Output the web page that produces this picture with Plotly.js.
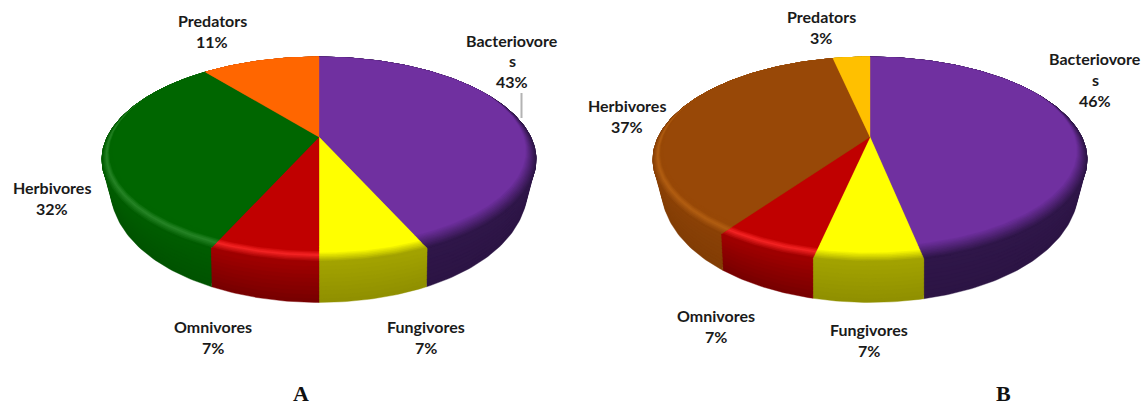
<!DOCTYPE html>
<html><head><meta charset="utf-8">
<script src="https://cdn.plot.ly/plotly-3.0.1.min.js"></script>
<style>html,body{margin:0;padding:0;background:#fff}#c{width:1146px;height:405px}</style>
</head><body><div id="c"></div>
<script>
// ---- data ----
const categories = ["Bacteriovores","Fungivores","Omnivores","Herbivores","Predators"];
const sharesA = [43.3,6.7,6.7,32.5,10.8];  // slice sizes
const sharesB = [46.8,6.6,6.4,36.8,3.4];   // slice sizes
const percentLabelsA = ["43%","7%","7%","32%","11%"];
const percentLabelsB = ["46%","7%","7%","37%","3%"];
const categoryLines = [["Bacteriovore","s"],["Fungivores"],["Omnivores"],["Herbivores"],["Predators"]];
const panelNames = ["A","B"];

// ---- styles ----
const stylePurple = {base:"#7030a0",hi:null,start:.90,top:"#2f1649",bot:"#2c1444"};
const styleYellow = {base:"#ffff00",hi:null,start:.94,top:"#a3a300",bot:"#8f8f00"};
const styleRed    = {base:"#c00000",hi:"#f62525",start:.93,top:"#a00000",bot:"#760000"};
const styleGreen  = {base:"#006600",hi:"#278527",start:.93,top:"#005c00",bot:"#005200"};
const styleBrown  = {base:"#984807",hi:"#b25e12",start:.93,top:"#8a4106",bot:"#823d05"};
const styleOrange = {base:"#ff6600",hi:null,start:.94,top:"#c04c00",bot:"#a04000"};
const styleGold   = {base:"#ffc000",hi:null,start:.94,top:"#c09000",bot:"#a07800"};
const stylesA = [stylePurple,styleYellow,styleRed,styleGreen,styleOrange];
const stylesB = [stylePurple,styleYellow,styleRed,styleBrown,styleGold];

// ---- layout of the two tilted pies (page pixels) ----
const apexA = [319,137], apexB = [870,137];
const persp = {sx:211.7, sy:97.56, k:0.2195, faceMidY:22.5, dropMid:25.5, growY:0.146, shrinkX:0.04};
const labelPosA = [[512,40],[426,326.5],[213,326.5],[52,187.5],[212,20.5]];
const labelPosB = [[1095,58.5],[869,329.5],[716,315.5],[627,105.5],[821,16.5]];
const lineStep = 20.8;
const panelPos = [[301,393],[1003,393]];

function project(apex,theta,r,t){
  const X=r*Math.sin(theta), Y=-r*Math.cos(theta), w=1-persp.k*Y;
  let px=persp.sx*X/w, py=persp.sy*Y/w;
  if(t>0){
    px*=1-persp.shrinkX*t*X*X;
    py=persp.faceMidY+persp.dropMid*t+(py-persp.faceMidY)*(1+persp.growY*t);
  }
  return [apex[0]+px, apex[1]+py];
}
function hex(c){return [1,3,5].map(i=>parseInt(c.substr(i,2),16));}
function mix(a,b,t){const A=hex(a),B=hex(b);return "rgb("+A.map((v,i)=>Math.round(v+(B[i]-v)*t)).join(",")+")";}
function fillTrace(xs,ys,color){
  return {x:xs,y:ys,type:"scatter",mode:"lines",fill:"toself",fillcolor:color,
          line:{width:0.4,color:color},hoverinfo:"skip",showlegend:false};
}
function arcSteps(a0,a1){return Math.max(2,Math.ceil((a1-a0)*180/Math.PI));}
function bevelWeight(theta){
  const Y=-Math.cos(theta);
  return Math.max(0,Math.min(1,(Y+0.5)/1.5));
}
function faceWedge(apex,a0,a1,r,color){
  const n=arcSteps(a0,a1), xs=[apex[0]], ys=[apex[1]];
  for(let i=0;i<=n;i++){
    const a=a0+(a1-a0)*i/n, p=project(apex,a,1-(1-r)*bevelWeight(a),0);
    xs.push(p[0]); ys.push(p[1]);
  }
  xs.push(apex[0]); ys.push(apex[1]);
  return fillTrace(xs,ys,color);
}
// wall strip from the rim (t=0) down to t1; painted deepest first so strips overlap without seams
function wallBand(apex,a0,a1,t1,color){
  const n=arcSteps(a0,a1), xs=[], ys=[];
  for(let i=0;i<=n;i++){const p=project(apex,a0+(a1-a0)*i/n,1,0); xs.push(p[0]); ys.push(p[1]);}
  for(let i=n;i>=0;i--){const p=project(apex,a0+(a1-a0)*i/n,1,t1); xs.push(p[0]); ys.push(p[1]);}
  xs.push(xs[0]); ys.push(ys[0]);
  return fillTrace(xs,ys,color);
}
function ringColor(s,r){
  if(r<=s.start) return s.base;
  if(s.hi){
    const peak=s.start+(1-s.start)*0.4;
    if(r<=peak) return mix(s.base,s.hi,(r-s.start)/(peak-s.start));
    return mix(s.hi,s.top,(r-peak)/(1-peak));
  }
  return mix(s.base,s.top,(r-s.start)/(1-s.start));
}
function pieTraces(apex,shares,styles){
  const total=shares.reduce((a,b)=>a+b,0), out=[];
  const bounds=[0]; shares.forEach(v=>bounds.push(bounds[bounds.length-1]+v/total*2*Math.PI));
  const bands=10;
  for(let b=bands-1;b>=0;b--){
    shares.forEach((v,i)=>out.push(wallBand(apex,bounds[i],bounds[i+1],(b+1)/bands,
      mix(styles[i].top,styles[i].bot,(b+.5)/bands))));
  }
  for(let k=0;k<=10;k++){
    const r=1-k*0.01;
    shares.forEach((v,i)=>out.push(faceWedge(apex,bounds[i],bounds[i+1],r,ringColor(styles[i],r))));
  }
  return out;
}
function textAnn(x,y,text,font){
  return {x:x,y:y,text:text,showarrow:false,xref:"x",yref:"y",xanchor:"center",yanchor:"middle",font:font};
}
const labelFont={family:"Lato, Carlito, sans-serif",size:16,color:"#1a1a1a",weight:700};
const panelFont={family:"'Liberation Serif', serif",size:22,color:"#111111",weight:700};
function labelAnns(lines,perc,pos){
  const out=[];
  lines.forEach((ls,i)=>{
    ls.concat([perc[i]]).forEach((t,j)=>out.push(textAnn(pos[i][0],pos[i][1]+j*lineStep,"<b>"+t+"</b>",labelFont)));
  });
  return out;
}
const traces=pieTraces(apexA,sharesA,stylesA).concat(pieTraces(apexB,sharesB,stylesB));
const annotations=labelAnns(categoryLines,percentLabelsA,labelPosA)
  .concat(labelAnns(categoryLines,percentLabelsB,labelPosB))
  .concat(panelNames.map((n,i)=>textAnn(panelPos[i][0],panelPos[i][1],"<b>"+n+"</b>",panelFont)));
const layout={
  width:1146,height:405,margin:{l:0,r:0,t:0,b:0},paper_bgcolor:"#fff",plot_bgcolor:"#fff",showlegend:false,
  xaxis:{range:[0,1146],visible:false,fixedrange:true},
  yaxis:{range:[405,0],visible:false,fixedrange:true},
  annotations:annotations,
  shapes:[{type:"line",xref:"x",yref:"y",x0:521.5,x1:521.5,y0:93,y1:118,line:{color:"#b3b3b3",width:2}}]
};
Plotly.newPlot("c",traces,layout,{staticPlot:true,displayModeBar:false});
</script></body></html>
